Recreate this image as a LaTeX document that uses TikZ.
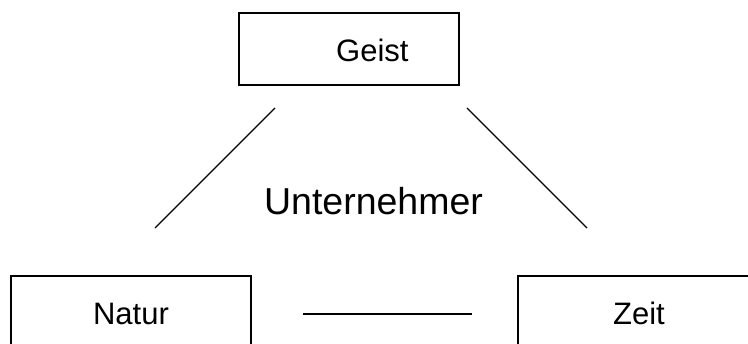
\documentclass[tikz,border=0pt]{standalone}
\usepackage{fontspec}
\setmainfont{Liberation Sans}
\begin{document}
\begin{tikzpicture}[x=1pt,y=-1pt,
  box/.style={draw=black, line width=1.6pt, rectangle, inner sep=0pt},
  lbl/.style={inner sep=0pt, font=\fontsize{31}{37}\selectfont},
  big/.style={inner sep=0pt, font=\fontsize{37.5}{45}\selectfont},
  conn/.style={draw=black, line width=1.2pt}]
\useasboundingbox (0,0) rectangle (748,344);
\clip (0,0) rectangle (748,344);
% boxes
\node[box, minimum width=220pt, minimum height=72pt] (geist) at (349,49) {};
\node[box, minimum width=240pt, minimum height=74pt] (natur) at (131,313) {};
\node[box, minimum width=242pt, minimum height=74pt] (zeit) at (639,313) {};
% labels
\node[lbl, anchor=base west] (geistT) at (336,62) {Geist};
\node[lbl, anchor=base] (naturT) at (131,325) {Natur};
\node[lbl, anchor=base] (zeitT) at (639,325) {Zeit};
\node[big, anchor=base] (unt) at (373.5,215) {Unternehmer};
% connector end points
\coordinate (l1) at (275,108);
\coordinate (l2) at (155,228);
\coordinate (r1) at (467,108);
\coordinate (r2) at (587,228);
\coordinate (h1) at (303,314);
\coordinate (h2) at (472,314);
\draw[conn] (l1) -- (l2);
\draw[conn] (r1) -- (r2);
\draw[conn] (h1) -- (h2);
\end{tikzpicture}
\end{document}
